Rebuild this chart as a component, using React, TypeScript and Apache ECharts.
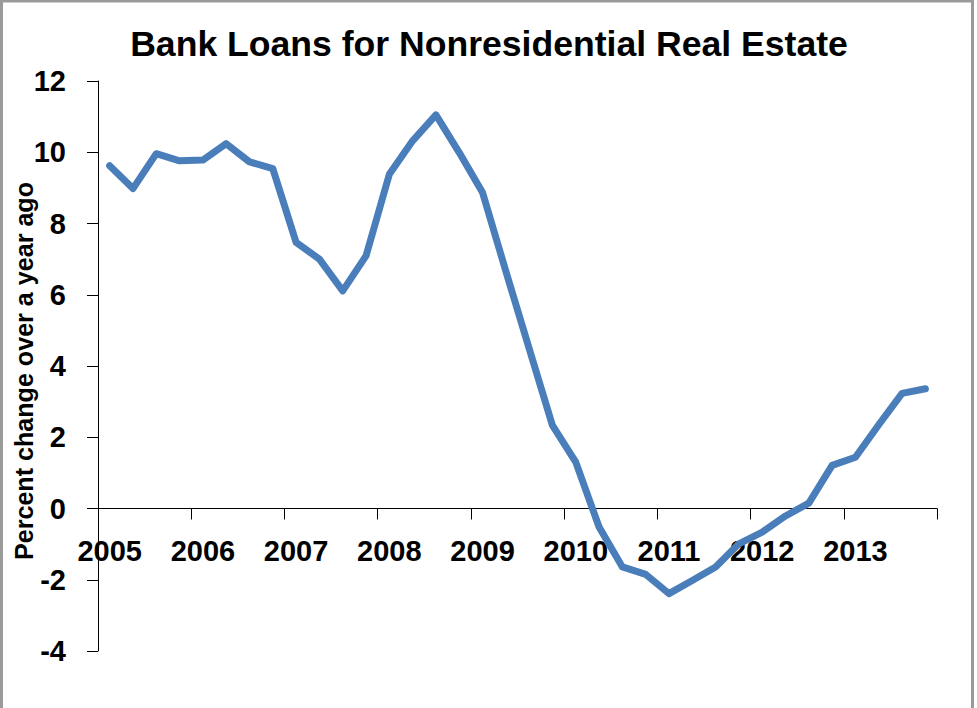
import React, { useEffect, useRef } from "react";
import * as echarts from "echarts";

const TITLE = "Bank Loans for Nonresidential Real Estate";
const Y_NAME = "Percent change over a year ago";

const years = ["2005", "2006", "2007", "2008", "2009", "2010", "2011", "2012", "2013"];
const quarters = ["Q1", "Q2", "Q3", "Q4"];
const categories = years.flatMap((y) => quarters.map((q) => `${y} ${q}`));

const loanGrowth = [
  9.62, 8.98, 9.96, 9.76,
  9.78, 10.24, 9.73, 9.54,
  7.47, 7.0, 6.11, 7.09,
  9.38, 10.32, 11.05, 9.99,
  8.87, 6.66, 4.49, 2.33,
  1.3, -0.52, -1.64, -1.85,
  -2.39, -2.02, -1.64, -0.99,
  -0.66, -0.21, 0.15, 1.21,
  1.44, 2.35, 3.23, 3.36,
];

const yMin = -4;
const yMax = 12;
const yStep = 2;

const FONT = '"Liberation Sans", Arial, sans-serif';

function measure(text: string, font: string): number {
  const c = document.createElement("canvas").getContext("2d");
  if (!c) return text.length * 10;
  c.font = font;
  return c.measureText(text).width;
}

export default function App() {
  const ref = useRef<HTMLDivElement>(null);

  useEffect(() => {
    document.body.style.margin = "0";
    if (!ref.current) return;
    const chart = echarts.init(ref.current, undefined, { renderer: "svg" });

    const titleSize = 35;
    const titleW = measure(TITLE, `bold ${titleSize}px "Liberation Sans"`);
    const titleScale = 718 / titleW;

    const ySize = 25;
    const yNameW = measure(Y_NAME, `bold ${ySize}px "Liberation Sans"`);
    const yNameScale = 378 / yNameW;

    chart.setOption({
      animation: false,
      backgroundColor: "#ffffff",
      grid: { left: 98, right: 40, top: 81, bottom: 57, containLabel: false },
      xAxis: {
        type: "category",
        data: categories,
        boundaryGap: true,
        axisLine: { onZero: true, lineStyle: { color: "#000", width: 1 } },
        axisTick: { show: true, interval: 3, length: 11, lineStyle: { color: "#000", width: 1 } },
        axisLabel: {
          interval: 3,
          formatter: (v: string) => v.slice(0, 4),
          fontFamily: FONT,
          fontWeight: "bold",
          fontSize: 29,
          color: "#000",
          margin: -115,
        },
        splitLine: { show: false },
      },
      yAxis: {
        type: "value",
        min: yMin,
        max: yMax,
        interval: yStep,
        axisLine: { show: true, lineStyle: { color: "#000", width: 1 } },
        axisTick: { show: true, length: 11, lineStyle: { color: "#000", width: 1 } },
        axisLabel: {
          fontFamily: FONT,
          fontWeight: "bold",
          fontSize: 29,
          color: "#000",
          margin: 32,
        },
        splitLine: { show: false },
      },
      graphic: [
        {
          type: "rect",
          shape: { x: 1.5, y: 1, width: 971, height: 760 },
          style: { fill: "none", stroke: "#9a9a9a", lineWidth: 3 },
          silent: true,
        },
        {
          type: "text",
          x: 489,
          y: 44,
          scaleX: titleScale,
          style: {
            text: TITLE,
            fontFamily: FONT,
            fontWeight: "bold",
            fontSize: titleSize,
            fill: "#000",
            align: "center",
            verticalAlign: "middle",
          },
        },
        {
          type: "text",
          x: 24,
          y: 371,
          rotation: Math.PI / 2,
          scaleX: yNameScale,
          style: {
            text: Y_NAME,
            fontFamily: FONT,
            fontWeight: "bold",
            fontSize: ySize,
            fill: "#000",
            align: "center",
            verticalAlign: "middle",
          },
        },
      ],
      series: [
        {
          type: "line",
          z: 5,
          data: loanGrowth,
          symbol: "none",
          lineStyle: { color: "#4a7ebb", width: 7, cap: "round", join: "round" },
          itemStyle: { color: "#4a7ebb" },
        },
      ],
    });

    return () => chart.dispose();
  }, []);

  return (
    <div
      ref={ref}
      style={{ position: "absolute", left: 0, top: 0, width: 977, height: 708 }}
    />
  );
}
